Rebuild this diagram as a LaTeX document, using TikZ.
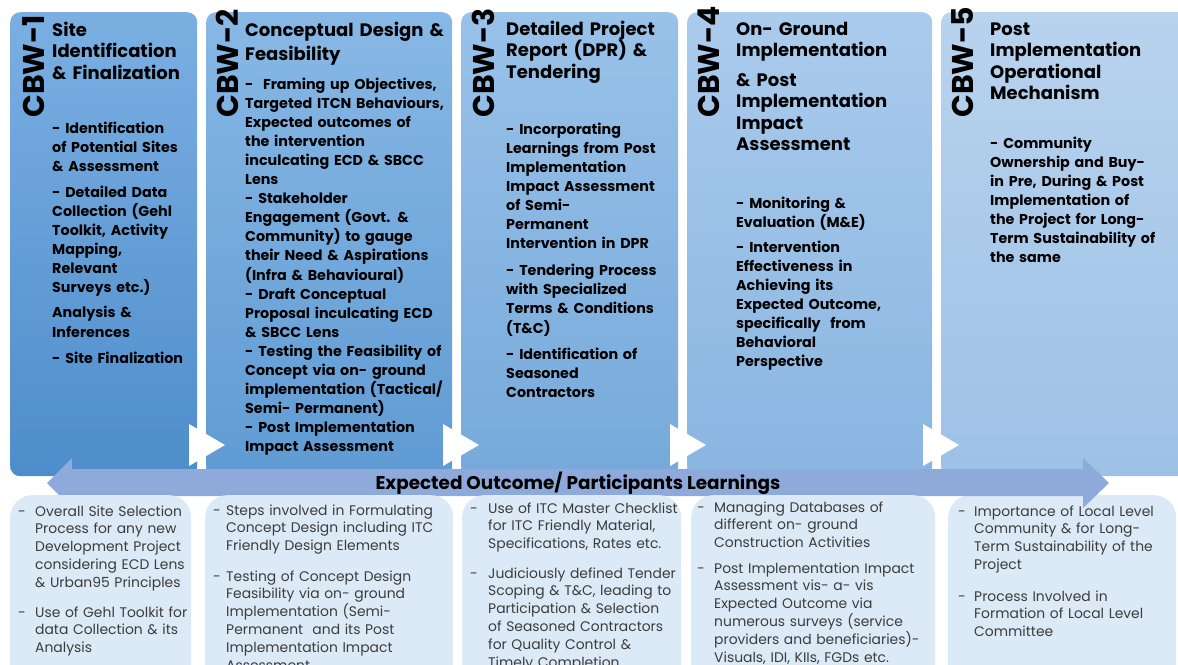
\documentclass[tikz,border=0pt]{standalone}
\usepackage{fontspec}
\setmainfont{Poppins}
\definecolor{ctA}{HTML}{7BAFE2}\definecolor{cbA}{HTML}{4E8DCB}
\definecolor{ctB}{HTML}{88B8E5}\definecolor{cbB}{HTML}{5F9BD3}
\definecolor{ctC}{HTML}{99C2E9}\definecolor{cbC}{HTML}{76A9DA}
\definecolor{ctD}{HTML}{AACBEC}\definecolor{cbD}{HTML}{89B5E1}
\definecolor{ctE}{HTML}{B8D3EE}\definecolor{cbE}{HTML}{9DC1E6}
\definecolor{bandc}{HTML}{8EAADB}
\definecolor{lowc}{HTML}{DCE9F6}
\definecolor{txtgray}{HTML}{3C3C3C}
\begin{document}
\begin{tikzpicture}[x=1pt,y=-1pt,
  topbox/.style={rectangle,rounded corners=10pt,inner sep=0pt,anchor=north west,draw=none,minimum height=464pt},
  lowbox/.style={rectangle,rounded corners=22pt,inner sep=0pt,anchor=north west,draw=none,fill=lowc,minimum height=210pt},
  ttl/.style={anchor=base west,inner sep=0pt,text width=260pt,align=left,font=\bfseries\fontsize{18}{21.5}\selectfont},
  bdy/.style={anchor=base west,inner sep=0pt,text width=260pt,align=left,font=\bfseries\fontsize{14.3}{19.1}\selectfont},
  cbw/.style={anchor=west,rotate=90,inner sep=0pt,font=\bfseries\fontsize{30}{30}\selectfont},
  btx/.style={anchor=base west,inner sep=0pt,text width=260pt,align=left,text=txtgray,font=\fontsize{13.9}{17.8}\selectfont},
  bdash/.style={anchor=base west,inner sep=0pt,text=txtgray,font=\fontsize{13.9}{17.8}\selectfont},
  notch/.style={fill=white,draw=none}]
\useasboundingbox (0,0) rectangle (1178,664);
% ---------- top boxes ----------
\node[topbox,minimum width=187pt,top color=ctA,bottom color=cbA] (s1) at (10,12) {};
\node[topbox,minimum width=246pt,top color=ctB,bottom color=cbB] (s2) at (206,12) {};
\node[topbox,minimum width=217pt,top color=ctC,bottom color=cbC] (s3) at (461,12) {};
\node[topbox,minimum width=245pt,top color=ctD,bottom color=cbD] (s4) at (687,12) {};
\node[topbox,minimum width=260pt,top color=ctE,bottom color=cbE] (s5) at (941,12) {};
% ---------- white arrow notches ----------
\fill[notch] (189,424) -- (225,445) -- (189,466) -- cycle;
\fill[notch] (443,424) -- (479,445) -- (443,466) -- cycle;
\fill[notch] (670,424) -- (706,445) -- (670,466) -- cycle;
\fill[notch] (923,424) -- (959,445) -- (923,466) -- cycle;
% ---------- vertical labels ----------
\node[cbw] (k1) at (34,118) {CBW-1};
\node[cbw] (k2) at (227,118) {CBW-2};
\node[cbw] (k3) at (483,118) {CBW-3};
\node[cbw] (k4) at (709,118) {CBW-4};
\node[cbw] (k5) at (963,118) {CBW-5};
% ---------- titles ----------
\node[ttl] (t1) at (52,36) {Site\\Identification\\\& Finalization};
\node[ttl] (t2) at (245,36) {Conceptual Design \&\\[2.5pt]Feasibility};
\node[ttl] (t3) at (506,35) {Detailed Project\\Report (DPR) \&\\Tendering};
\node[ttl] (t4) at (736,35) {On- Ground\\Implementation\\[8pt]\& Post\\Implementation\\Impact\\Assessment};
\node[ttl] (t5) at (990,35) {Post\\Implementation\\Operational\\Mechanism};
% ---------- body texts ----------
\node[bdy] (d1) at (52,133) {- Identification\\of Potential Sites\\\& Assessment\\[7pt]- Detailed Data\\Collection (Gehl\\Toolkit, Activity\\Mapping,\\Relevant\\Surveys etc.)\\[6pt]Analysis \&\\Inferences\\[7pt]- Site Finalization};
\node[bdy] (d2) at (245,89) {-\ \ Framing up Objectives,\\Targeted ITCN Behaviours,\\Expected outcomes of\\the intervention\\inculcating ECD \& SBCC\\Lens\\- Stakeholder\\Engagement (Govt. \&\\Community) to gauge\\their Need \& Aspirations\\(Infra \& Behavioural)\\- Draft Conceptual\\Proposal inculcating ECD\\\& SBCC Lens\\- Testing the Feasibility of\\Concept via on- ground\\implementation (Tactical/\\Semi- Permanent)\\- Post Implementation\\Impact Assessment};
\node[bdy] (d3) at (506,134) {- Incorporating\\Learnings from Post\\Implementation\\Impact Assessment\\of Semi-\\Permanent\\Intervention in DPR\\[8pt]- Tendering Process\\with Specialized\\Terms \& Conditions\\(T\&C)\\[7pt]- Identification of\\Seasoned\\Contractors};
\node[bdy] (d4) at (736,208) {- Monitoring \&\\Evaluation (M\&E)\\[6pt]- Intervention\\Effectiveness in\\Achieving its\\Expected Outcome,\\specifically\ \ from\\Behavioral\\Perspective};
\node[bdy] (d5) at (990,148) {- Community\\Ownership and Buy-\\in Pre, During \& Post\\Implementation of\\the Project for Long-\\Term Sustainability of\\the same};
% ---------- lower boxes and band ----------
\node[lowbox,minimum width=228pt] (l5) at (948,495) {};
\fill[bandc] (47,483) -- (72,458) -- (72,469) -- (1083,469) -- (1083,458) -- (1109,483)
  -- (1083,508) -- (1083,496) -- (72,496) -- (72,508) -- cycle;
\node[lowbox,minimum width=181pt] (l1) at (10,495) {};
\node[lowbox,minimum width=248pt] (l2) at (205,495) {};
\node[lowbox,minimum width=219pt] (l3) at (462,495) {};
\node[lowbox,minimum width=244pt] (l4) at (691,495) {};
\node[anchor=base,inner sep=0pt,font=\bfseries\fontsize{18.4}{20}\selectfont] (band) at (578,489) {Expected Outcome/ Participants Learnings};
% ---------- lower texts ----------
\node[bdash] (m1a) at (18,516) {-};
\node[btx] (p1a) at (35,516) {Overall Site Selection\\Process for any new\\Development Project\\considering ECD Lens\\\& Urban95 Principles};
\node[bdash] (m1b) at (18,617) {-};
\node[btx] (p1b) at (35,617) {Use of Gehl Toolkit for\\data Collection \& its\\Analysis};
\node[bdash] (m2a) at (213,515) {-};
\node[btx] (p2a) at (226,515) {Steps involved in Formulating\\Concept Design including ITC\\Friendly Design Elements};
\node[bdash] (m2b) at (213,581) {-};
\node[btx] (p2b) at (226,581) {Testing of Concept Design\\Feasibility via on- ground\\Implementation (Semi-\\Permanent\ \ and its Post\\Implementation Impact\\Assessment};
\node[bdash] (m3a) at (470,513) {-};
\node[btx] (p3a) at (488,513) {Use of ITC Master Checklist\\for ITC Friendly Material,\\Specifications, Rates etc.};
\node[bdash] (m3b) at (470,578) {-};
\node[btx] (p3b) at (488,578) {Judiciously defined Tender\\Scoping \& T\&C, leading to\\Participation \& Selection\\of Seasoned Contractors\\for Quality Control \&\\Timely Completion};
\node[bdash] (m4a) at (697,512) {-};
\node[btx] (p4a) at (714,512) {Managing Databases of\\different on- ground\\Construction Activities};
\node[bdash] (m4b) at (697,573) {-};
\node[btx] (p4b) at (714,573) {Post Implementation Impact\\Assessment vis- a- vis\\Expected Outcome via\\numerous surveys (service\\providers and beneficiaries)-\\Visuals, IDI, KIIs, FGDs etc.};
\node[bdash] (m5a) at (958,516) {-};
\node[btx] (p5a) at (974,516) {Importance of Local Level\\Community \& for Long-\\Term Sustainability of the\\Project};
\node[bdash] (m5b) at (958,601) {-};
\node[btx] (p5b) at (974,601) {Process Involved in\\Formation of Local Level\\Committee};
\end{tikzpicture}
\end{document}
